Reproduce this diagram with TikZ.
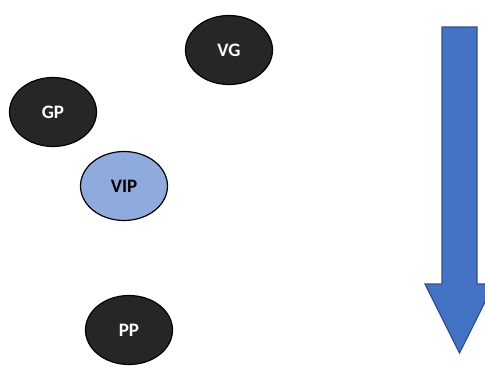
\documentclass[tikz,border=0pt]{standalone}
\usepackage{fontspec}
\setmainfont{Carlito}
\usetikzlibrary{shapes.geometric}
\definecolor{darkfill}{HTML}{262626}
\definecolor{vipfill}{HTML}{8FAADC}
\definecolor{arrowfill}{HTML}{4472C4}
\definecolor{arrowline}{HTML}{2F528F}
\tikzset{
  dot/.style={ellipse, draw=black, line width=1.2pt, fill=darkfill, minimum width=87pt, minimum height=69pt, inner sep=0pt, text=white, font=\fontsize{19}{19}\selectfont\bfseries},
  vipdot/.style={dot, fill=vipfill, text=black}
}
\begin{document}
\begin{tikzpicture}[x=1pt,y=-1pt]
\useasboundingbox (0,0) rectangle (485,367);
\node[dot] (vg) at (229,50) {VG};
\node[dot] (gp) at (53,112) {GP};
\node[vipdot] (vip) at (124,186) {VIP};
\node[dot] (pp) at (129,330) {PP};
\begin{scope}
\clip (0,0) rectangle (485,367);
\draw[fill=arrowfill, draw=arrowline, line width=1.2pt, line join=miter]
  (442,27) -- (477,27) -- (477,284) -- (494,284) -- (459.5,353) -- (425,284) -- (442,284) -- cycle;
\end{scope}
\end{tikzpicture}
\end{document}
